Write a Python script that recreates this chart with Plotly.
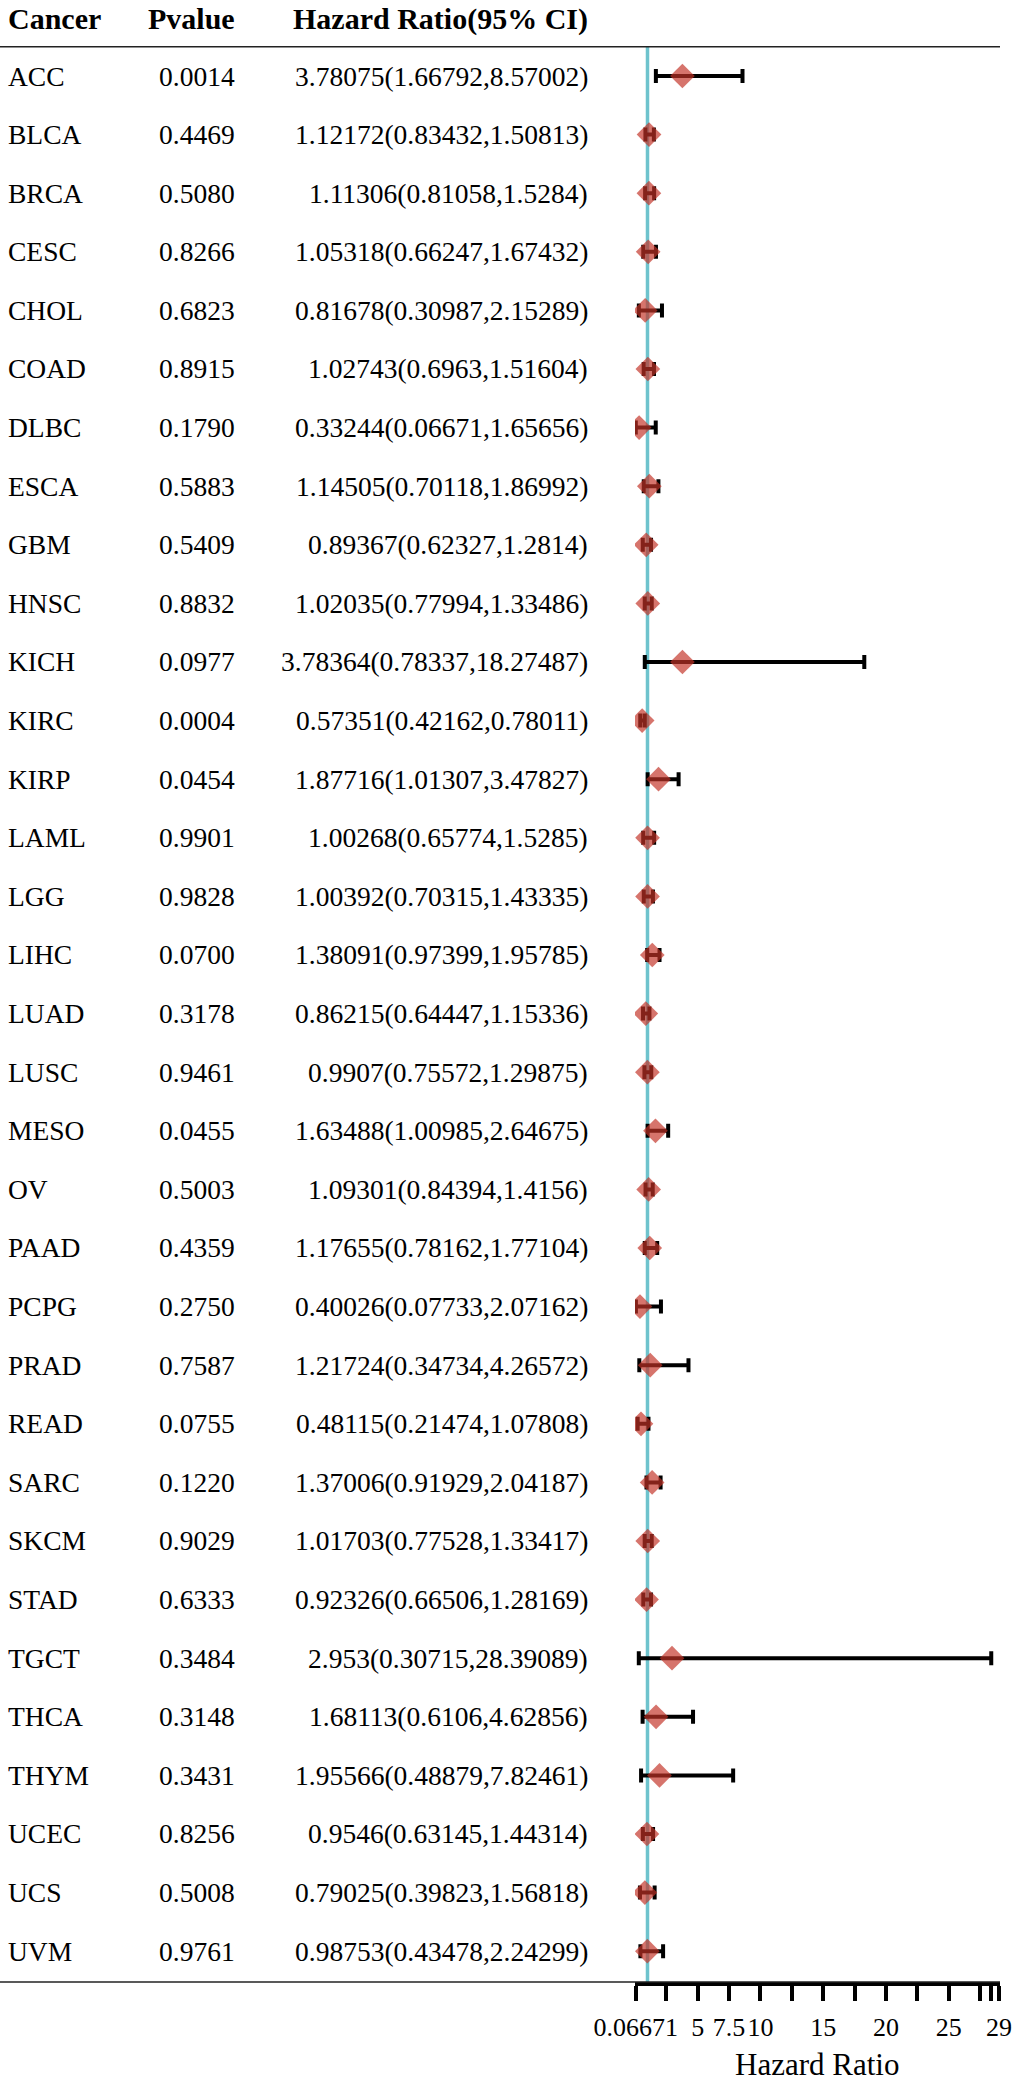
import plotly.graph_objects as go

cancers = ["ACC", "BLCA", "BRCA", "CESC", "CHOL", "COAD", "DLBC", "ESCA", "GBM", "HNSC",
           "KICH", "KIRC", "KIRP", "LAML", "LGG", "LIHC", "LUAD", "LUSC", "MESO", "OV",
           "PAAD", "PCPG", "PRAD", "READ", "SARC", "SKCM", "STAD", "TGCT", "THCA", "THYM",
           "UCEC", "UCS", "UVM"]
pvalues = [0.0014, 0.4469, 0.5080, 0.8266, 0.6823, 0.8915, 0.1790, 0.5883, 0.5409, 0.8832,
           0.0977, 0.0004, 0.0454, 0.9901, 0.9828, 0.0700, 0.3178, 0.9461, 0.0455, 0.5003,
           0.4359, 0.2750, 0.7587, 0.0755, 0.1220, 0.9029, 0.6333, 0.3484, 0.3148, 0.3431,
           0.8256, 0.5008, 0.9761]
hr = [3.78075, 1.12172, 1.11306, 1.05318, 0.81678, 1.02743, 0.33244, 1.14505, 0.89367, 1.02035,
      3.78364, 0.57351, 1.87716, 1.00268, 1.00392, 1.38091, 0.86215, 0.9907, 1.63488, 1.09301,
      1.17655, 0.40026, 1.21724, 0.48115, 1.37006, 1.01703, 0.92326, 2.953, 1.68113, 1.95566,
      0.9546, 0.79025, 0.98753]
hr_low = [1.66792, 0.83432, 0.81058, 0.66247, 0.30987, 0.6963, 0.06671, 0.70118, 0.62327, 0.77994,
          0.78337, 0.42162, 1.01307, 0.65774, 0.70315, 0.97399, 0.64447, 0.75572, 1.00985, 0.84394,
          0.78162, 0.07733, 0.34734, 0.21474, 0.91929, 0.77528, 0.66506, 0.30715, 0.6106, 0.48879,
          0.63145, 0.39823, 0.43478]
hr_high = [8.57002, 1.50813, 1.5284, 1.67432, 2.15289, 1.51604, 1.65656, 1.86992, 1.2814, 1.33486,
           18.27487, 0.78011, 3.47827, 1.5285, 1.43335, 1.95785, 1.15336, 1.29875, 2.64675, 1.4156,
           1.77104, 2.07162, 4.26572, 1.07808, 2.04187, 1.33417, 1.28169, 28.39089, 4.62856, 7.82461,
           1.44314, 1.56818, 2.24299]

tick_vals = [0.06671, 2.5, 5, 7.5, 10, 12.5, 15, 17.5, 20, 22.5, 25, 27.5, 28.39089, 29]
tick_text = ["0.06671", "", "5", "7.5", "10", "", "15", "", "20", "", "25", "", "", "29"]

def fmt(v):
    return ("%.5f" % v).rstrip("0").rstrip(".")

rows = list(range(len(cancers)))
hr_text = [fmt(h) + "(" + fmt(l) + "," + fmt(u) + ")" for h, l, u in zip(hr, hr_low, hr_high)]

serif = "Liberation Serif, Times New Roman, serif"

fig = go.Figure()

# confidence intervals
fig.add_trace(go.Scatter(
    x=hr, y=rows, mode="markers",
    marker=dict(size=1, color="rgba(0,0,0,0)"),
    error_x=dict(type="data", symmetric=False,
                 array=[u - h for h, u in zip(hr, hr_high)],
                 arrayminus=[h - l for h, l in zip(hr, hr_low)],
                 color="black", thickness=4, width=7),
    hoverinfo="skip", showlegend=False
))

# hazard ratio diamonds
fig.add_trace(go.Scatter(
    x=hr, y=rows, mode="markers",
    marker=dict(symbol="diamond", size=19, color="rgba(195,50,38,0.68)", line=dict(width=0)),
    showlegend=False
))

annotations = []
header_y = -0.98
cols = [("Cancer", 0.006, "left"), ("Pvalue", 0.237, "right"), ("Hazard Ratio(95% CI)", 0.590, "right")]
for txt, xx, anchor in cols:
    annotations.append(dict(text="<b>" + txt + "</b>", x=xx, y=header_y, xref="paper", yref="y",
                            xanchor=anchor, yanchor="middle", showarrow=False,
                            font=dict(family=serif, size=30, color="black")))
for i in rows:
    for (txt, xx, anchor) in [(cancers[i], 0.006, "left"),
                              ("%.4f" % pvalues[i], 0.237, "right"),
                              (hr_text[i], 0.590, "right")]:
        annotations.append(dict(text=txt, x=xx, y=i, xref="paper", yref="y",
                                xanchor=anchor, yanchor="middle", showarrow=False,
                                font=dict(family=serif, size=27.5, color="black")))
annotations.append(dict(text="Hazard Ratio", x=0.817, y=-0.0414, xref="paper", yref="paper",
                        xanchor="center", yanchor="middle", showarrow=False,
                        font=dict(family=serif, size=31, color="black")))

shapes = [
    dict(type="line", xref="paper", yref="y", x0=0, x1=1, y0=-0.5, y1=-0.5,
         line=dict(color="#222222", width=1.5)),
    dict(type="line", xref="paper", yref="paper", x0=0, x1=1, y0=0, y1=0,
         line=dict(color="#222222", width=1.5)),
    dict(type="line", xref="x", yref="y", x0=1, x1=1, y0=-0.5, y1=32.526,
         line=dict(color="#6EC3CD", width=3.5), layer="below"),
]

fig.update_layout(
    width=1020, height=2083,
    margin=dict(l=0, r=20, t=0, b=101),
    paper_bgcolor="white", plot_bgcolor="white",
    xaxis=dict(domain=[0.63495, 1.0], range=[0, 29.088], showgrid=False, zeroline=False,
               showline=True, linecolor="black", linewidth=4, automargin=False,
               tickmode="array", tickvals=tick_vals, ticktext=tick_text, tickangle=0,
               ticks="outside", ticklen=15, tickwidth=4, tickcolor="black",
               ticklabelstandoff=4,
               tickfont=dict(family=serif, size=26, color="black")),
    yaxis=dict(range=[32.526, -1.2969], showgrid=False, zeroline=False, showline=False,
               showticklabels=False, ticks="", automargin=False),
    annotations=annotations,
    shapes=shapes,
)

# drop the default page margin so the figure sits at the top-left corner
fig.write_html("out.html", config={"displayModeBar": False},
               post_script="document.body.style.margin='0';")
